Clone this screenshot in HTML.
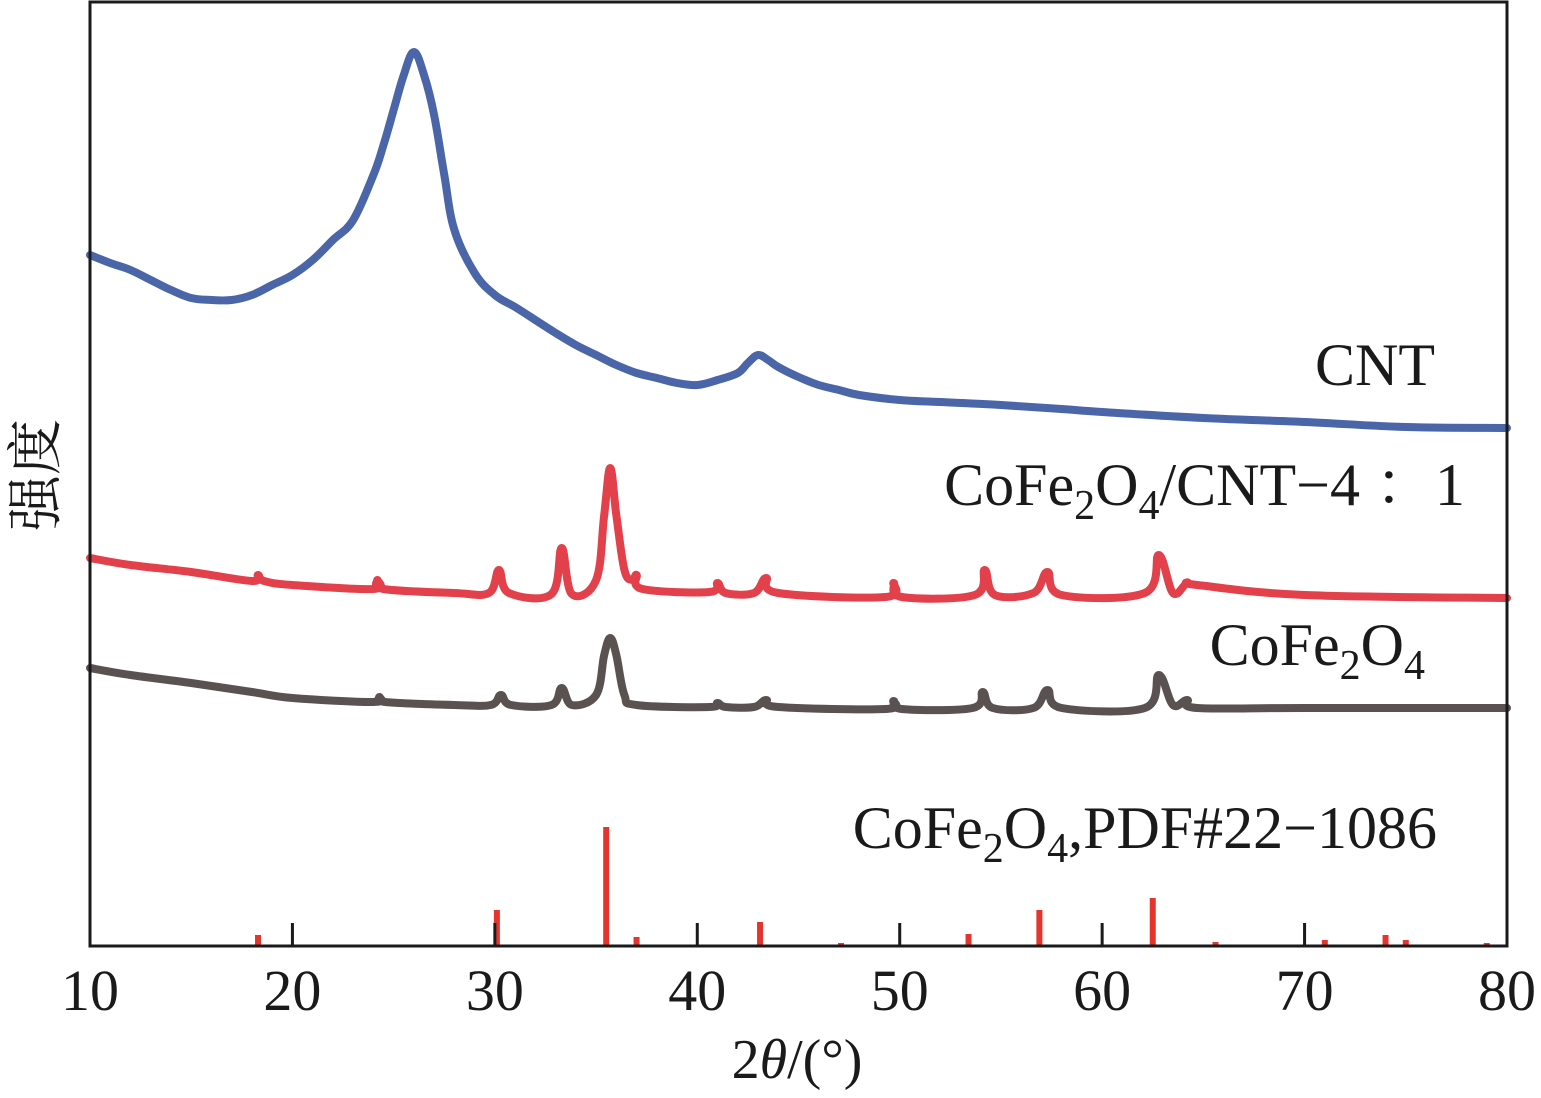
<!DOCTYPE html>
<html><head><meta charset="utf-8"><style>
html,body{margin:0;padding:0;background:#fff;}
svg{display:block;}
text{font-family:"Liberation Serif","Noto Serif CJK SC",serif;fill:#1a1a1a;}
</style></head><body>
<svg id="chart" width="1541" height="1098" viewBox="0 0 1541 1098" xmlns="http://www.w3.org/2000/svg">
<g id="series"></g>
<g id="sticks"></g>
<rect x="90" y="2" width="1417" height="944" fill="none" stroke="#1a1a1a" stroke-width="3"/>
<g id="ticks"></g>
<text x="1435" y="385" font-size="60" text-anchor="end">CNT</text>
<text x="1465" y="505" font-size="60" text-anchor="end">CoFe<tspan font-size="42" dy="14">2</tspan><tspan dy="-14">O</tspan><tspan font-size="42" dy="14">4</tspan><tspan dy="-14">/CNT−4 ：1</tspan></text>
<text x="1425" y="665" font-size="60" text-anchor="end">CoFe<tspan font-size="42" dy="14">2</tspan><tspan dy="-14">O</tspan><tspan font-size="42" dy="14">4</tspan></text>
<text x="1437" y="848" font-size="60" text-anchor="end">CoFe<tspan font-size="42" dy="14">2</tspan><tspan dy="-14">O</tspan><tspan font-size="42" dy="14">4</tspan><tspan dy="-14">,PDF#22−1086</tspan></text>
<text x="797" y="1078" font-size="56" text-anchor="middle">2<tspan font-style="italic">θ</tspan>/(°)</text>
<text transform="translate(55,475) rotate(-90)" font-size="56" text-anchor="middle">强度</text>
</svg>
<script>
const xTicks=[10,20,30,40,50,60,70,80];
const cntX=[10,11,12,13,14,15,16,17,18,19,20,21,22,23,24,24.5,25,25.5,26,26.5,27,27.5,28,29,30,31,32,33,34,35,36,37,38,39,40,41,42,42.5,43,43.5,44,45,46,47,48,50,52,55,58,60,65,70,75,80];
const cntY=[690,682,675,665,655,647,645,645,650,660,670,685,705,725,770,800,835,870,893,870,830,770,715,672,650,638,625,612,600,590,580,572,567,562,560,565,572,582,590,585,578,568,560,555,550,545,543,540,536,533,527,523,518,517];
const compX=[10,12,15,18,18.3,18.6,20,24,24.2,24.5,28,29.7,30.2,30.7,32.8,33.3,33.8,35.0,35.4,35.7,36.0,36.4,36.8,37,37.3,40.6,41,41.4,42.8,43.4,44.0,49.3,49.7,50.1,53.7,54.2,54.7,56.6,57.3,58.0,62.1,62.8,63.5,64.2,64.7,70,80];
const compY=[387,380,373,364,370,364,360,356,365,356,352,352,375,352,351,397,351,365,430,477,430,375,365,370,356,353,362,352,352,367,352,348,362,348,350,375,350,352,373,350,352,390,352,362,360,350,347,345];
const cofeX=[10,12,15,18,20,24,24.3,24.6,28,29.8,30.3,30.8,32.8,33.3,33.8,35.0,35.4,35.7,36.0,36.4,37,40.6,41,41.4,42.8,43.4,44.0,49.3,49.7,50.1,53.6,54.1,54.6,56.6,57.3,58.0,62.1,62.8,63.5,64.2,64.7,70,80];
const cofeY=[277,270,262,253,247,243,248,243,240,240,250,240,240,257,240,250,290,307,290,250,240,238,242,238,238,245,238,236,244,236,237,253,237,237,255,237,237,270,240,245,237,237,237];
const pdfX=[18.3,30.1,35.5,37.0,43.1,47.1,53.4,56.9,62.5,65.6,71.0,74.0,75.0,79.0];
const pdfI=[10,35,118,8,23,2,11,35,47,3,5,10,5,2];

const X=v=>90+(v-10)*(1417/70);
const Y=v=>945-v;
const NS='http://www.w3.org/2000/svg';
const sg=document.getElementById('series');
function smooth(pts){
  let d='M'+pts[0][0].toFixed(1)+','+pts[0][1].toFixed(1);
  for(let i=0;i<pts.length-1;i++){
    const p0=pts[i-1]||pts[i],p1=pts[i],p2=pts[i+1],p3=pts[i+2]||p2;
    const t=0.18;
    const c1=[p1[0]+(p2[0]-p0[0])*t,p1[1]+(p2[1]-p0[1])*t];
    const c2=[p2[0]-(p3[0]-p1[0])*t,p2[1]-(p3[1]-p1[1])*t];
    d+='C'+c1[0].toFixed(1)+','+c1[1].toFixed(1)+' '+c2[0].toFixed(1)+','+c2[1].toFixed(1)+' '+p2[0].toFixed(1)+','+p2[1].toFixed(1);
  }
  return d;
}
function line(xs,ys,color,name){
  const p=document.createElementNS(NS,'path');
  
  
  p.setAttribute('d',smooth(xs.map((x,i)=>[X(x),Y(ys[i])])));
  p.setAttribute('fill','none');p.setAttribute('stroke',color);
  p.setAttribute('stroke-width','8');p.setAttribute('stroke-linejoin','round');p.setAttribute('stroke-linecap','round');
  sg.appendChild(p);
}
line(cntX,cntY,'#4a65a8','cnt-line');
line(compX,compY,'#e2404a','cofe2o4-cnt-line');
line(cofeX,cofeY,'#5a5250','cofe2o4-line');
const st=document.getElementById('sticks');
pdfX.forEach((x,i)=>{
  const r=document.createElementNS(NS,'rect');
  
  
  r.setAttribute('x',X(x)-3);r.setAttribute('y',Y(pdfI[i]));
  r.setAttribute('width',6);r.setAttribute('height',pdfI[i]);
  r.setAttribute('fill','#e5342e');st.appendChild(r);
});
const tg=document.getElementById('ticks');
xTicks.forEach(t=>{
  const l=document.createElementNS(NS,'line');
  
  
  l.setAttribute('x1',X(t));l.setAttribute('x2',X(t));l.setAttribute('y1',945);l.setAttribute('y2',923);
  l.setAttribute('stroke','#1a1a1a');l.setAttribute('stroke-width',3);tg.appendChild(l);
  const tx=document.createElementNS(NS,'text');
  
  
  tx.setAttribute('x',X(t));tx.setAttribute('y',1010);tx.setAttribute('font-size','58');
  tx.setAttribute('text-anchor','middle');tx.textContent=t;tg.appendChild(tx);
});
</script>
</body></html>
